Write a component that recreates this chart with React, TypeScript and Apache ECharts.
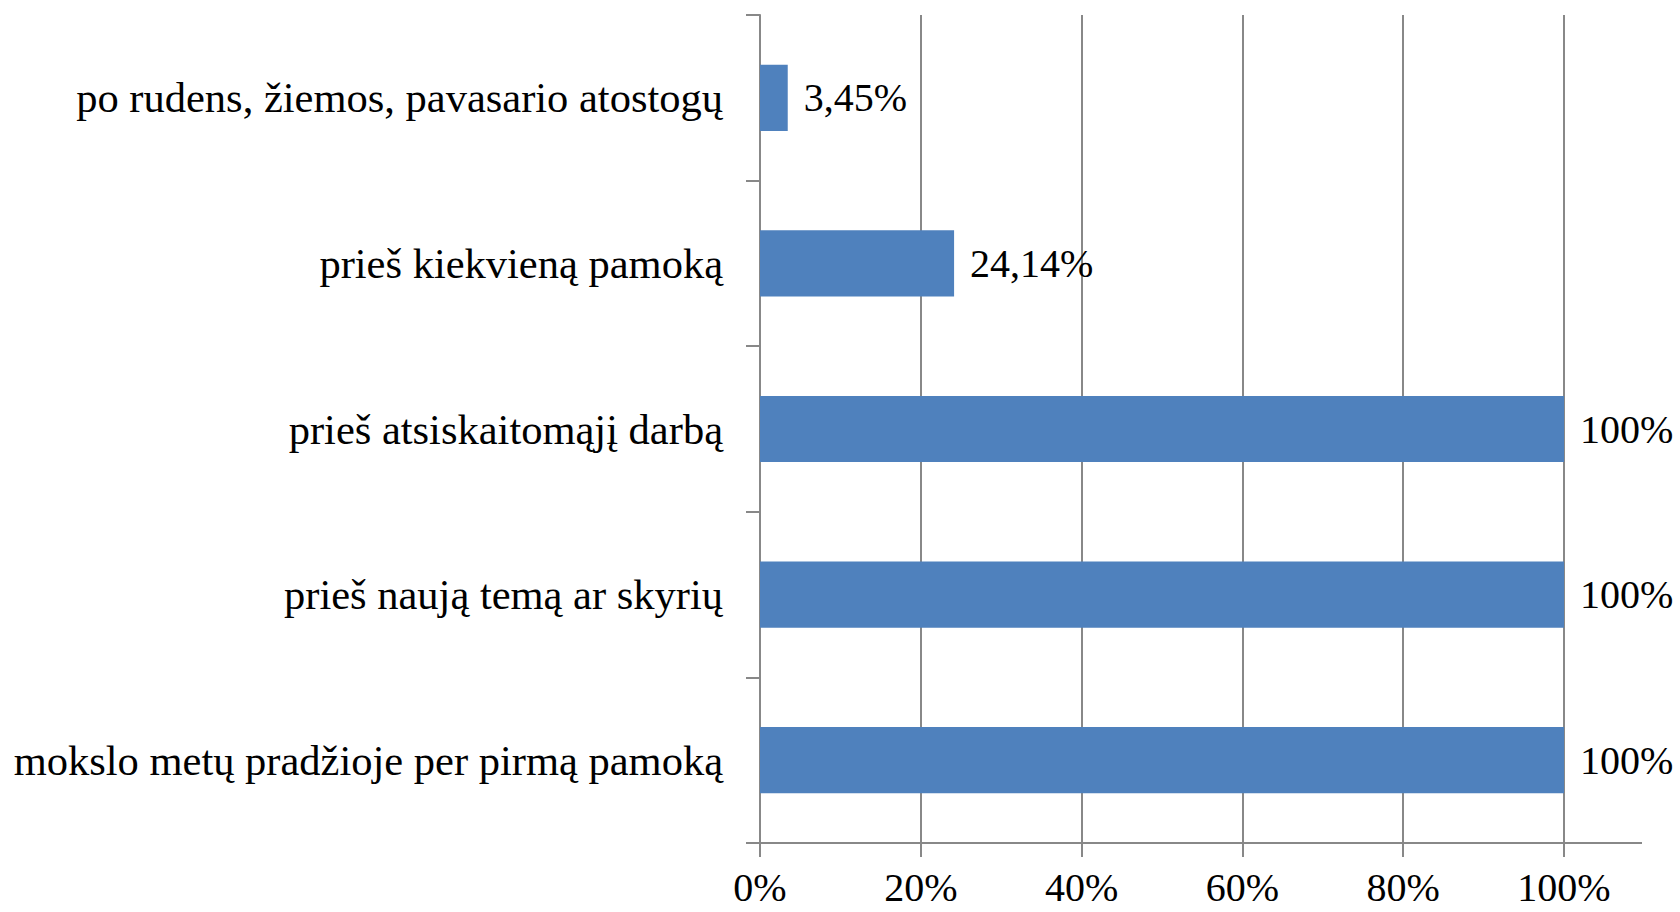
import React, { useEffect, useRef } from "react";
import * as echarts from "echarts";

const categories = [
  "po rudens, žiemos, pavasario atostogų",
  "prieš kiekvieną pamoką",
  "prieš atsiskaitomąjį darbą",
  "prieš naują temą ar skyrių",
  "mokslo metų pradžioje per pirmą pamoką",
];
const values = [3.45, 24.14, 100, 100, 100];
const valueLabels = ["3,45%", "24,14%", "100%", "100%", "100%"];

const FONT = "'Liberation Serif', 'Times New Roman', serif";
const GRAY = "#888888";

export default function App() {
  const ref = useRef<HTMLDivElement>(null);
  useEffect(() => {
    if (!ref.current) return;
    const chart = echarts.init(ref.current, undefined, { renderer: "svg" });
    chart.setOption({
      animation: false,
      backgroundColor: "#ffffff",
      grid: { left: 760, right: 116, top: 15, bottom: 69, containLabel: false },
      xAxis: {
        type: "value",
        min: 0,
        max: 100,
        interval: 20,
        axisLine: { show: true, lineStyle: { color: GRAY, width: 2 } },
        axisTick: { show: true, length: 14, lineStyle: { color: GRAY, width: 2 } },
        splitLine: { show: true, lineStyle: { color: GRAY, width: 2 } },
        axisLabel: {
          formatter: "{value}%",
          fontFamily: FONT,
          fontSize: 40,
          lineHeight: 44,
          color: "#000",
          margin: 22,
        },
      },
      yAxis: {
        type: "category",
        inverse: true,
        data: categories,
        axisLine: { show: true, lineStyle: { color: GRAY, width: 2 } },
        axisTick: { show: true, length: 14, lineStyle: { color: GRAY, width: 2 } },
        axisLabel: {
          fontFamily: FONT,
          fontSize: 42.5,
          color: "#000",
          margin: 37,
        },
      },
      graphic: [
        {
          type: "line",
          shape: { x1: 1564, y1: 843, x2: 1642, y2: 843 },
          style: { stroke: GRAY, lineWidth: 2 },
        },
      ],
      series: [
        {
          type: "bar",
          data: values,
          barCategoryGap: "60%",
          itemStyle: { color: "#4F81BD" },
          label: {
            show: true,
            position: "right",
            distance: 16,
            fontFamily: FONT,
            fontSize: 40,
            color: "#000",
            formatter: (p: any) => valueLabels[p.dataIndex],
          },
        },
      ],
    });
    return () => chart.dispose();
  }, []);
  return (
    <div
      ref={ref}
      style={{ position: "fixed", left: 0, top: 0, width: 1680, height: 912 }}
    />
  );
}
